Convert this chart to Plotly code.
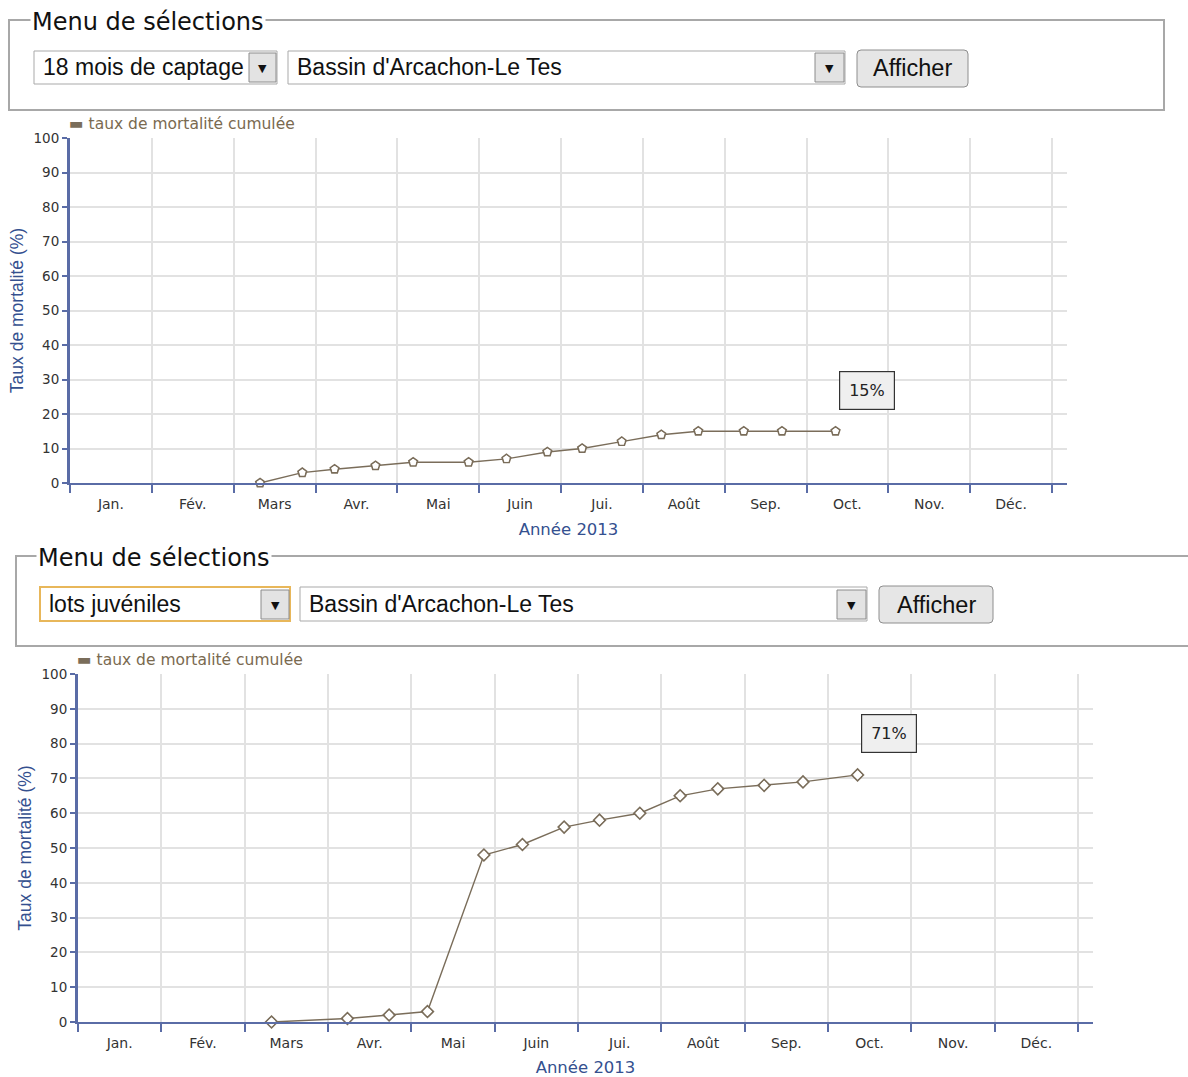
import plotly.graph_objects as go
import calendar

W, H = 1188, 1077

# ---------------- data ----------------
months = ["Jan.", "Fév.", "Mars", "Avr.", "Mai", "Juin", "Jui.", "Août", "Sep.", "Oct.", "Nov.", "Déc."]
y_ticks = [0, 10, 20, 30, 40, 50, 60, 70, 80, 90, 100]

dates_captage = ["2013-03-11", "2013-03-27", "2013-04-08", "2013-04-23", "2013-05-07", "2013-05-28",
                 "2013-06-11", "2013-06-26", "2013-07-09", "2013-07-24", "2013-08-08", "2013-08-22",
                 "2013-09-08", "2013-09-22", "2013-10-12"]
mort_captage = [0, 3, 4, 5, 6, 6, 7, 9, 10, 12, 14, 15, 15, 15, 15]

dates_juv = ["2013-03-11", "2013-04-08", "2013-04-23", "2013-05-07", "2013-05-28",
             "2013-06-11", "2013-06-26", "2013-07-09", "2013-07-24", "2013-08-08", "2013-08-22",
             "2013-09-08", "2013-09-22", "2013-10-12"]
mort_juv = [0, 1, 2, 3, 48, 51, 56, 58, 60, 65, 67, 68, 69, 71]

series_name = "taux de mortalité cumulée"
menu_title = "Menu de sélections"
sel1_opts = ["18 mois de captage", "lots juvéniles"]
site_name = "Bassin d'Arcachon-Le Tes"
button_label = "Afficher"
y_title = "Taux de mortalité (%)"
x_title = "Année 2013"


def month_pos(d):
    y, m, day = (int(v) for v in d.split("-"))
    return (m - 1) + (day - 1) / calendar.monthrange(y, m)[1]


# ---------------- styles ----------------
LINE_C = "#7a6d5a"
AXIS_C = "#5a6ca6"
TITLE_C = "#34508f"
GRID_C = "#e2e2e2"
TICK_FONT = dict(family="DejaVu Sans", size=13.5, color="#333333")
MONTH_FONT = dict(family="DejaVu Sans", size=14, color="#333333")
UI_FONT = "Liberation Sans"


def px(x):
    return x / W


def py(y):
    return 1 - y / H


fig = go.Figure()

charts = [
    dict(dates=dates_captage, vals=mort_captage, symbol="pentagon-open", x0=70, x1=1067, xe=1052,
         yb=483, yt=138, suffix="", lab_suffix="3"),
    dict(dates=dates_juv, vals=mort_juv, symbol="diamond-open", x0=78, x1=1093, xe=1078,
         yb=1022, yt=674, suffix="2", lab_suffix="4"),
]

shapes = []
annotations = []

for c in charts:
    xs = [month_pos(d) for d in c["dates"]]
    xa = "x" + c["suffix"]
    ya = "y" + c["suffix"]
    xl = "x" + c["lab_suffix"]
    xmax = 12 * (c["x1"] - c["x0"]) / (c["xe"] - c["x0"])
    fig.add_trace(go.Scatter(
        x=xs, y=c["vals"], xaxis=xa, yaxis=ya, mode="lines+markers",
        line=dict(color=LINE_C, width=1.4),
        marker=dict(symbol=c["symbol"], size=9, color=LINE_C,
                    line=dict(color=LINE_C, width=1.7)),
        cliponaxis=False, showlegend=False, name=series_name,
    ))
    # white fill behind open markers
    fig.add_trace(go.Scatter(
        x=xs, y=c["vals"], xaxis=xa, yaxis=ya, mode="markers",
        marker=dict(symbol=c["symbol"].replace("-open", ""), size=7, color="white"),
        cliponaxis=False, showlegend=False, hoverinfo="skip",
    ))
    # helper trace for label axis
    fig.add_trace(go.Scatter(x=[None], y=[None], xaxis=xl, yaxis=ya, showlegend=False, hoverinfo="skip"))

    dom_x = [px(c["x0"]), px(c["x1"])]
    dom_y = [py(c["yb"]), py(c["yt"])]
    key = "xaxis" + c["suffix"]
    fig.layout[key] = dict(
        domain=dom_x, range=[0, xmax], anchor=ya, tickvals=list(range(0, 13)),
        showticklabels=False, ticks="outside", ticklen=8, tickwidth=2, tickcolor=AXIS_C,
        showline=True, linecolor=AXIS_C, linewidth=2, showgrid=True, gridcolor=GRID_C, gridwidth=1.5,
        zeroline=False, fixedrange=True, automargin=False,
    )
    fig.layout["xaxis" + c["lab_suffix"]] = dict(
        domain=dom_x, range=[0, xmax], anchor=ya, overlaying=xa,
        tickvals=[i + 0.5 for i in range(12)], ticktext=months, tickfont=MONTH_FONT,
        ticks="outside", ticklen=8, tickcolor="rgba(0,0,0,0)", showgrid=False, showline=False,
        zeroline=False, automargin=False,
        title=dict(text=x_title, font=dict(family="DejaVu Sans", size=16.5, color=TITLE_C), standoff=12),
    )
    fig.layout["yaxis" + c["suffix"]] = dict(
        domain=dom_y, range=[0, 100], anchor=xa, tickvals=y_ticks, tickfont=TICK_FONT,
        ticks="outside", ticklen=5, tickwidth=2, tickcolor=AXIS_C,
        showline=True, linecolor=AXIS_C, linewidth=3, showgrid=True, gridcolor=GRID_C, gridwidth=1.5,
        zeroline=False, automargin=False,
        title=dict(text=y_title, font=dict(family=UI_FONT, size=17.5, color=TITLE_C), standoff=6),
    )
    # legend-like label
    annotations.append(dict(
        xref="paper", yref="paper", x=px(c["x0"] - 3), y=py(c["yt"] - 14), xanchor="left", yanchor="middle",
        text=f"<span style='color:{LINE_C}'>▬</span> {series_name}", showarrow=False,
        font=dict(family="DejaVu Sans", size=15.5, color="#7a6a50"),
    ))
    # tooltip for last value
    annotations.append(dict(
        xref=xa, yref=ya, x=xs[-1], y=c["vals"][-1], text=f"{c['vals'][-1]}%",
        showarrow=True, arrowcolor="rgba(0,0,0,0)", ax=31, ay=-41,
        bgcolor="#efefef", bordercolor="#333333", borderwidth=1.2, borderpad=9,
        font=dict(family="DejaVu Sans", size=16, color="#222222"),
    ))

# ---------------- selection menus ----------------
menus = [
    dict(fs=(9, 20, 1164, 110), leg_x=34, sel1=(34, 51, 277, 84), arr1=(249, 53, 276, 82),
         sel2=(288, 51, 845, 84), arr2=(815, 53, 844, 82), btn=(857, 50, 968, 87),
         text1=sel1_opts[0], focus=False),
    dict(fs=(16, 556, 1200, 646), leg_x=40, sel1=(40, 587, 290, 621), arr1=(261, 590, 289, 619),
         sel2=(300, 587, 867, 621), arr2=(837, 590, 866, 619), btn=(879, 586, 993, 623),
         text1=sel1_opts[1], focus=True),
]


def rect(b, line, fill, width=1):
    x0, y0, x1, y1 = b
    return dict(type="rect", xref="paper", yref="paper", x0=px(x0), y0=py(y1), x1=px(x1), y1=py(y0),
                line=dict(color=line, width=width), fillcolor=fill, layer="above")


def rounded(b, r, line, fill, width=1):
    x0, y0, x1, y1 = b
    p = (f"M {px(x0 + r)},{py(y0)} L {px(x1 - r)},{py(y0)} Q {px(x1)},{py(y0)} {px(x1)},{py(y0 + r)} "
         f"L {px(x1)},{py(y1 - r)} Q {px(x1)},{py(y1)} {px(x1 - r)},{py(y1)} "
         f"L {px(x0 + r)},{py(y1)} Q {px(x0)},{py(y1)} {px(x0)},{py(y1 - r)} "
         f"L {px(x0)},{py(y0 + r)} Q {px(x0)},{py(y0)} {px(x0 + r)},{py(y0)} Z")
    return dict(type="path", xref="paper", yref="paper", path=p, line=dict(color=line, width=width),
                fillcolor=fill, layer="above")


def label(x, y, text, size, xanchor="center", family=UI_FONT, **kw):
    return dict(xref="paper", yref="paper", x=px(x), y=py(y), xanchor=xanchor, yanchor="middle",
                text=text, showarrow=False, font=dict(family=family, size=size, color="#111111"), **kw)


for m in menus:
    shapes.append(rect(m["fs"], "#a8a8a8", "rgba(0,0,0,0)", 2))
    annotations.append(label(m["leg_x"] - 4, m["fs"][1] + 2, menu_title, 24, xanchor="left",
                             family="DejaVu Sans", bgcolor="white", borderpad=1))
    if m["focus"]:
        shapes.append(rect(m["sel1"], "#e8b75a", "white", 2))
    else:
        shapes.append(rect(m["sel1"], "#a9a9a9", "white", 1))
    shapes.append(rect(m["arr1"], "#8c8c8c", "#e3e3e3", 1))
    shapes.append(rect(m["sel2"], "#a9a9a9", "white", 1))
    shapes.append(rect(m["arr2"], "#8c8c8c", "#e3e3e3", 1))
    shapes.append(rounded(m["btn"], 4, "#8e8e8e", "#e6e6e6", 1))
    ymid = (m["sel1"][1] + m["sel1"][3]) / 2
    for arr in (m["arr1"], m["arr2"]):
        annotations.append(label((arr[0] + arr[2]) / 2, ymid + 1, "▼", 11, family="DejaVu Sans"))
    annotations.append(label(m["sel1"][0] + 7, ymid, m["text1"], 23, xanchor="left"))
    annotations.append(label(m["sel2"][0] + 7, ymid, site_name, 23, xanchor="left"))
    annotations.append(label((m["btn"][0] + m["btn"][2]) / 2, (m["btn"][1] + m["btn"][3]) / 2,
                             button_label, 23.5))

fig.update_layout(
    width=W, height=H, margin=dict(l=0, r=0, t=0, b=0, autoexpand=False),
    paper_bgcolor="white", plot_bgcolor="white",
    shapes=shapes, annotations=annotations, showlegend=False,
)

# remove the browser's default 8px body margin so the figure fills the window exactly
fig.write_html("out.html", config={"displayModeBar": False},
               post_script="document.body.style.margin='0';document.body.style.overflow='hidden';")
